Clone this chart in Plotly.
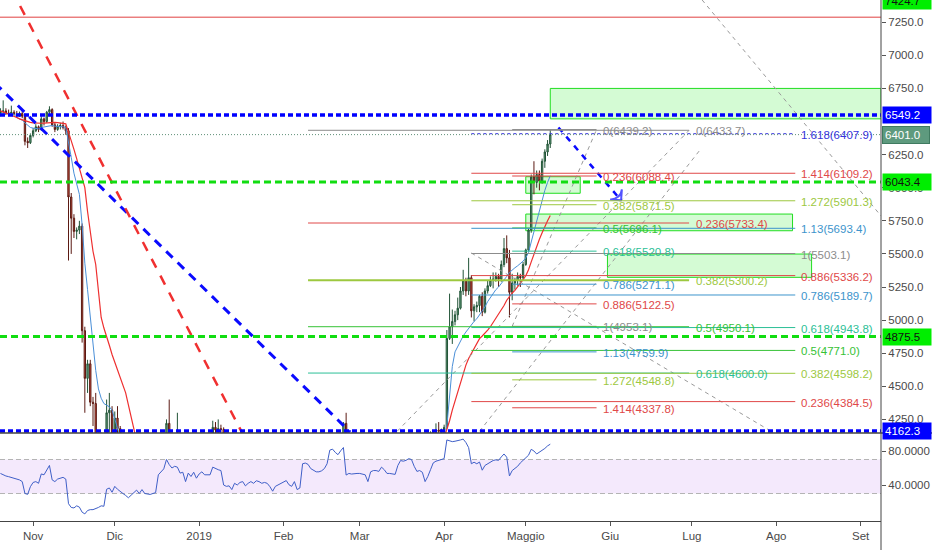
import pandas as pd
import plotly.graph_objects as go

# ---------------- daily data (2018-10-20 .. 2019-05-10) ----------------
dates = pd.date_range("2018-10-20", "2019-05-10", freq="D")

opens = [
    6560, 6575, 6580, 6565, 6560, 6570, 6555, 6550, 6560, 6540, 6350, 6340,
    6395, 6430, 6460, 6440, 6520, 6500, 6570, 6590, 6475, 6440, 6465, 6470, 6455, 6430, 5930, 5770, 5670, 5680, 5710, 4920,
    4560, 4670, 4380, 4370, 3950, 4050, 3850, 3890, 4300, 4320,
    4060, 4260, 4180, 3930, 4000, 3800, 3560, 3460, 3510, 3650, 3540, 3460, 3530, 3350, 3280, 3270, 3290, 3590, 3700, 3780,
    4220, 3960, 4060, 4040, 4120, 3860, 3900, 3700, 3960, 3870, 3910,
    3790, 3880, 3980, 3870, 3900, 3890, 4190, 4170, 4180, 4175, 3740, 3750, 3710, 3610, 3770, 3690, 3720, 3740, 3700, 3790,
    3650, 3630, 3660, 3630, 3660, 3650, 3640, 3590, 3490, 3450, 3500,
    3520, 3540, 3570, 3510, 3505, 3520, 3460, 3450, 3730, 3720, 3740, 3680, 3690, 3680, 3660, 3670, 3700, 3740, 3980, 3990,
    4040, 4010, 4050, 4220, 3840, 3890, 3880, 3890,
    3870, 3890, 3880, 3840, 3760, 3920, 3930, 3940, 3920, 4000, 3980, 3920, 3930, 3920, 3930, 3990, 4080, 4050, 4040, 4080,
    4110, 4040, 4060, 4060, 4050, 3980, 4020, 4150, 4140, 4170, 4160,
    4170, 4190, 4862, 4950, 4990, 5040, 5090, 5220, 5300, 5220, 5320, 5070, 5100, 5110, 5180, 5060, 5220, 5260, 5300, 5310,
    5330, 5310, 5420, 5540, 5470, 5210, 5280, 5300, 5330, 5320,
    5420, 5530, 5680, 6080, 6040, 6100, 6050, 6200, 6270, 6330,
]
highs = [
    6600, 6660, 6600, 6590, 6620, 6585, 6580, 6575, 6580, 6560, 6380, 6410,
    6450, 6480, 6470, 6540, 6530, 6580, 6615, 6600, 6490, 6480, 6490, 6500, 6470, 6450, 5960, 5800, 5700, 5750, 5730, 4950,
    4700, 4700, 4420, 4450, 4150, 4150, 3950, 4400, 4450, 4350,
    4310, 4350, 4200, 4100, 4010, 3850, 3600, 3560, 3700, 3680, 3550, 3560, 3540, 3370, 3300, 3330, 3620, 3720, 3950, 4250,
    4400, 4080, 4120, 4300, 4130, 3950, 3920, 3980, 4020, 3940, 3920,
    3890, 3990, 3990, 3920, 4010, 4240, 4230, 4250, 4210, 4190, 3780, 3760, 3720, 3810, 3790, 3780, 3760, 3750, 3840, 3810,
    3660, 3690, 3680, 3680, 3670, 3720, 3660, 3600, 3500, 3520, 3540,
    3560, 3580, 3580, 3530, 3540, 3530, 3490, 3770, 3740, 3760, 3750, 3720, 3720, 3690, 3700, 3720, 3760, 4010, 4090, 4060,
    4070, 4060, 4230, 4300, 3920, 3900, 3920, 3960,
    3910, 3900, 3890, 3850, 3940, 3960, 3960, 4000, 4020, 4010, 3990, 3950, 3940, 3970, 4000, 4140, 4090, 4120, 4100, 4120,
    4130, 4080, 4080, 4070, 4060, 4030, 4160, 4160, 4220, 4230, 4180,
    4210, 4925, 5200, 5080, 5070, 5170, 5250, 5380, 5320, 5470, 5340, 5120, 5140, 5190, 5210, 5240, 5300, 5330, 5360, 5360,
    5350, 5450, 5620, 5640, 5530, 5350, 5320, 5360, 5350, 5440,
    5540, 5690, 6100, 6200, 6130, 6130, 6220, 6290, 6360, 6439,
]
lows = [
    6540, 6560, 6550, 6540, 6550, 6545, 6530, 6535, 6525, 6320, 6300, 6330,
    6380, 6420, 6420, 6430, 6470, 6490, 6540, 6460, 6420, 6430, 6440, 6440, 6400, 5450, 5500, 5620, 5610, 5650, 4830, 4300,
    4450, 4350, 4200, 3900, 3700, 3650, 3600, 3870, 4150, 3980,
    4040, 4120, 3880, 3850, 3780, 3520, 3300, 3380, 3500, 3500, 3420, 3450, 3330, 3230, 3220, 3260, 3280, 3540, 3690, 3770,
    3900, 3920, 3990, 4030, 3760, 3800, 3680, 3690, 3850, 3850, 3760,
    3750, 3850, 3850, 3830, 3870, 3870, 4100, 4120, 4150, 3700, 3680, 3650, 3590, 3600, 3660, 3680, 3660, 3670, 3690, 3620,
    3600, 3560, 3610, 3620, 3600, 3630, 3560, 3460, 3430, 3440, 3480,
    3500, 3520, 3490, 3490, 3495, 3440, 3440, 3440, 3690, 3680, 3670, 3650, 3660, 3630, 3650, 3660, 3680, 3730, 3930, 3970,
    3980, 3990, 4030, 3770, 3830, 3850, 3740, 3850,
    3860, 3840, 3820, 3740, 3750, 3880, 3910, 3880, 3910, 3950, 3890, 3870, 3900, 3870, 3920, 3980, 4020, 4030, 4030, 4060,
    4000, 4030, 4040, 4030, 3950, 3970, 4010, 4120, 4130, 4140, 4150,
    4150, 4180, 4850, 4820, 4960, 5000, 5080, 5190, 5180, 5190, 5020, 4990, 5060, 5060, 5030, 5050, 5200, 5250, 5240, 5290,
    5250, 5290, 5400, 5430, 5020, 5150, 5230, 5260, 5250, 5300,
    5410, 5520, 5660, 5950, 6000, 5980, 6030, 6150, 6240, 6300,
]
closes = [
    6575, 6580, 6565, 6560, 6570, 6555, 6550, 6560, 6540, 6350, 6340, 6395,
    6430, 6460, 6440, 6520, 6500, 6570, 6590, 6475, 6440, 6465, 6470, 6455, 6430, 5930, 5770, 5670, 5680, 5710, 4920, 4560,
    4670, 4380, 4370, 3950, 4050, 3850, 3890, 4300, 4320, 4060,
    4260, 4180, 3930, 4000, 3800, 3560, 3460, 3510, 3650, 3540, 3460, 3530, 3350, 3280, 3270, 3290, 3590, 3700, 3780, 4220,
    3960, 4060, 4040, 4130, 3860, 3900, 3700, 3960, 3870, 3910, 3790,
    3880, 3980, 3870, 3900, 3890, 4190, 4170, 4180, 4175, 3740, 3750, 3710, 3610, 3770, 3690, 3720, 3740, 3700, 3790, 3650,
    3630, 3660, 3630, 3660, 3650, 3640, 3590, 3490, 3450, 3500, 3520,
    3540, 3570, 3510, 3505, 3520, 3460, 3450, 3730, 3720, 3740, 3680, 3690, 3680, 3660, 3670, 3700, 3740, 3980, 3990, 4040,
    4010, 4050, 4220, 3840, 3890, 3880, 3890, 3870,
    3890, 3880, 3840, 3760, 3920, 3930, 3940, 3920, 4000, 3980, 3920, 3930, 3920, 3930, 3990, 4080, 4050, 4040, 4080, 4110,
    4040, 4060, 4060, 4050, 3980, 4020, 4150, 4140, 4170, 4160, 4170,
    4190, 4862, 4950, 4990, 5040, 5090, 5220, 5300, 5220, 5320, 5070, 5100, 5110, 5180, 5060, 5220, 5260, 5300, 5310, 5330,
    5310, 5420, 5540, 5470, 5210, 5280, 5300, 5330, 5320, 5420,
    5530, 5680, 6080, 6040, 6100, 6050, 6200, 6270, 6330, 6401,
]
ma_fast = [
    6555, 6558, 6560, 6560, 6558, 6555, 6530, 6520, 6510, 6490, 6470, 6455,
    6450, 6445, 6445, 6455, 6460, 6465, 6470, 6470, 6465, 6465, 6465, 6460, 6455, 6350, 6230, 6110, 6020, 5950, 5720, 5430,
    5230, 5020, 4830, 4620, 4480, 4410, 4370, 4355, 4345, 4320,
    4250, 4170, 4100, 4050, 4000, 3930, 3850, 3780, 3720, 3660, 3610, 3560, 3510, 3460, 3420, 3390, 3420, 3480, 3550, 3640,
    3720, 3790, 3850, 3900, 3930, 3950, 3940, 3930, 3920, 3900, 3880,
    3870, 3880, 3890, 3890, 3890, 3930, 3970, 4010, 4040, 4010, 3980, 3940, 3900, 3860, 3820, 3780, 3740, 3720, 3720, 3720,
    3700, 3690, 3680, 3670, 3660, 3650, 3640, 3620, 3600, 3570, 3560,
    3550, 3550, 3540, 3530, 3520, 3510, 3500, 3530, 3560, 3590, 3610, 3630, 3650, 3670, 3680, 3690, 3700, 3730, 3760, 3800,
    3830, 3860, 3900, 3920, 3930, 3930, 3930, 3920,
    3910, 3900, 3890, 3880, 3880, 3890, 3890, 3890, 3900, 3910, 3920, 3930, 3930, 3940, 3950, 3970, 3990, 4000, 4010, 4030,
    4040, 4050, 4060, 4060, 4050, 4040, 4050, 4060, 4070, 4090, 4100,
    4110, 4200, 4460, 4650, 4760, 4800, 4850, 4880, 4910, 4940, 4960, 4990, 5010, 5040, 5070, 5100, 5140, 5170, 5200, 5230,
    5250, 5275, 5300, 5330, 5360, 5380, 5395, 5410, 5425, 5445,
    5470, 5510, 5590, 5670, 5760, 5840, 5920, 5980, 6040, 6090,
]
ma_slow = [
    6580, 6572, 6565, 6558, 6550, 6543, 6530, 6520, 6512, 6505, 6498, 6494,
    6490, 6488, 6487, 6487, 6488, 6490, 6493, 6494, 6493, 6492, 6490, 6487, 6482, 6420, 6360, 6290, 6220, 6150, 6080, 6000,
    5820, 5650, 5520, 5420, 5200, 5020, 4940, 4880, 4810, 4740,
    4680, 4630, 4570, 4510, 4450, 4360, 4260, 4170, 4090, 4010, 3940, 3880, 3830, 3780, 3730, 3690, 3660, 3640, 3630, 3630,
    3640, 3650, 3660, 3680, 3700, 3720, 3740, 3760, 3790, 3810, 3830,
    3850, 3870, 3880, 3890, 3900, 3910, 3920, 3930, 3940, 3930, 3920, 3910, 3900, 3890, 3870, 3850, 3830, 3810, 3790, 3770,
    3750, 3730, 3710, 3700, 3690, 3680, 3670, 3660, 3650, 3640, 3620,
    3610, 3600, 3590, 3580, 3570, 3560, 3550, 3560, 3570, 3580, 3590, 3600, 3610, 3620, 3630, 3640, 3650, 3670, 3690, 3710,
    3730, 3750, 3780, 3790, 3800, 3810, 3820, 3820,
    3830, 3840, 3850, 3850, 3860, 3870, 3880, 3880, 3890, 3890, 3890, 3890, 3900, 3900, 3910, 3930, 3940, 3950, 3960, 3980,
    3990, 4000, 4010, 4020, 4020, 4020, 4030, 4040, 4060, 4070, 4080,
    4110, 4170, 4240, 4320, 4390, 4440, 4510, 4600, 4660, 4710, 4750, 4790, 4830, 4860, 4880, 4900, 4925, 4950, 4980, 5010,
    5040, 5075, 5110, 5150, 5180, 5205, 5225, 5250, 5275, 5305,
    5335, 5380, 5440, 5500, 5560, 5610, 5660, 5710, 5750, 5790,
]
rsi = [
    53.6, 51.7, 50.6, 49.8, 49.0, 47.9, 46.8, 46.0, 44.0, 30.0, 29.0, 38.0,
    43, 44, 42, 53, 52, 58, 63, 46, 44, 47, 48, 49, 47, 18, 13.6, 13, 15.5, 14, 8, 6,
    10, 11, 11, 12, 13.6, 15.5, 15, 35, 36.5, 31.5,
    38.4, 35, 32, 30, 27.7, 25, 28, 31, 34, 30, 34.6, 30, 29, 28.9, 30, 31, 52, 56, 59, 70,
    64, 60, 62, 61, 54, 55, 44, 54, 50, 55, 48,
    53, 55.5, 52, 52, 52, 61, 59, 58, 57, 40, 38.4, 39, 34.6, 42, 40, 43, 44, 39, 42, 44,
    42, 45, 44, 42, 43, 42, 38, 32.7, 38.4, 40.3, 42.2,
    44, 45.2, 40.3, 38.4, 44, 34.6, 36.5, 65, 65.8, 64.3, 59.3, 57.4, 55.5, 55.5, 56.7, 59.3, 65, 81, 82.2, 78.4,
    75.7, 80.3, 84.1, 51.7, 53.6, 52.9, 53.6, 53.6,
    53.6, 53, 52, 44, 55.5, 57, 57, 56, 61, 58, 53.6, 53.6, 53, 52.5, 63, 68.8, 68, 69, 71, 70,
    62, 56, 57, 55, 44, 50, 58, 66, 68, 69, 70,
    71, 93, 92, 91, 91.5, 92, 93, 94, 90, 84, 65, 66.8, 65, 67, 57.4, 63, 65, 66.8, 68.8, 69.6,
    69, 73, 76.5, 72.7, 50.6, 57, 59, 62, 66, 69,
    72, 75, 82, 80, 76.5, 78.5, 80, 83, 86, 88,
]
for arr in (opens, highs, lows, closes, ma_fast, ma_slow, rsi):
    assert len(arr) == len(dates), len(arr)

# ---------------- drawings ----------------
f1_start, f1_end = "2019-04-26", "2019-05-27"
f1_levels = ["0", "0.236", "0.382", "0.5", "0.618", "0.786", "0.886", "1", "1.13", "1.272", "1.414"]
f1_prices = [6439.2, 6088.4, 5871.5, 5696.1, 5520.8, 5271.1, 5122.5, 4953.1, 4759.9, 4548.8, 4337.8]

f2_start, f2_end = "2019-02-10", "2019-06-30"
f2_levels = ["0", "0.236", "0.382", "0.5", "0.618"]
f2_prices = [6433.7, 5733.4, 5300.2, 4950.1, 4600.0]
f2_anchor_prices = [3466.3, 6433.7]

f3_start, f3_end = "2019-04-11", "2019-08-08"
f3_levels = ["1.618", "1.414", "1.272", "1.13", "1", "0.886", "0.786", "0.618", "0.5", "0.382", "0.236"]
f3_prices = [6407.9, 6109.2, 5901.3, 5693.4, 5503.1, 5336.2, 5189.7, 4943.8, 4771.0, 4598.2, 4384.5]

level_colors = {"0": "#8c8c8c", "0.236": "#e04848", "0.382": "#9dc83f", "0.5": "#36c236",
                "0.618": "#2cbf97", "0.786": "#3d94cc", "0.886": "#e04848", "1": "#8c8c8c",
                "1.13": "#3d94cc", "1.272": "#9dc83f", "1.414": "#e04848", "1.618": "#3434dc"}

hline_prices = [7288.0, 6549.2, 6043.4, 4875.5, 4162.3]
hline_colors = ["#e04040", "#0000ff", "#11dd11", "#11dd11", "#0000ff"]
hline_widths = [1, 3.5, 3, 3, 3.5]
hline_dash = ["solid", "5px,3px", "7px,4px", "7px,4px", "5px,3px"]

label_texts = ["6549.2", "6043.4", "4875.5", "4162.3"]
label_prices = [6549.2, 6043.4, 4875.5, 4162.3]
label_bg = ["#0000ff", "#00ee00", "#00ee00", "#0000ff"]
label_fg = ["#ffffff", "#111111", "#111111", "#ffffff"]
top_label_text = "7424.7"

box_x0 = ["2019-05-10", "2019-05-01", "2019-05-01", "2019-05-31"]
box_x1 = [None, "2019-05-21", "2019-08-07", "2019-08-14"]
box_y0 = [6520, 5958, 5675, 5323]
box_y1 = [6750, 6083, 5801, 5499]

blue_trend_x = ["2018-10-18", "2019-02-25 12:00"]
blue_trend_y = [6790, 4154]
red_trend_x = ["2018-10-24", "2019-01-17"]
red_trend_y = [7500, 4140]
arrow_x = ["2019-05-13", "2019-06-05"]
arrow_y = [6455, 5905]
grey_lines = [
    (["2019-04-11", "2019-08-01"], [5507, 4137]),
    (["2019-07-01", "2019-09-10"], [7512, 5750]),
    (["2019-04-14", "2019-07-04"], [4160, 6285]),
]

month_ticks = ["2018-11-01", "2018-12-01", "2019-01-01", "2019-02-01", "2019-03-01", "2019-04-01",
               "2019-05-01", "2019-06-01", "2019-07-01", "2019-08-01", "2019-09-01"]
month_labels = ["Nov", "Dic", "2019", "Feb", "Mar", "Apr", "Maggio", "Giu", "Lug", "Ago", "Set"]
price_ticks = [4250, 4500, 4750, 5000, 5250, 5500, 5750, 6000, 6250, 6750, 7000, 7250]
rsi_ticks = [40, 80]
rsi_band = [30, 70]

x_start, x_end = "2018-10-19 20:00", "2019-09-08 12:00"
FONT = "Liberation Sans, Arial, sans-serif"

fig = go.Figure()

fig.add_trace(go.Candlestick(
    x=dates, open=opens, high=highs, low=lows, close=closes,
    increasing=dict(line=dict(color="#225437", width=1), fillcolor="#6ba583"),
    decreasing=dict(line=dict(color="#5b1a13", width=1), fillcolor="#d75442"),
    whiskerwidth=0, xaxis="x", yaxis="y", showlegend=False, hoverinfo="skip"))
fig.add_trace(go.Scatter(x=dates, y=ma_fast, mode="lines", line=dict(color="#4a8fd8", width=1),
                         yaxis="y", showlegend=False, hoverinfo="skip"))
fig.add_trace(go.Scatter(x=dates, y=ma_slow, mode="lines", line=dict(color="#ee2f2f", width=1.2),
                         yaxis="y", showlegend=False, hoverinfo="skip"))

# diagonal trend lines
fig.add_trace(go.Scatter(x=blue_trend_x, y=blue_trend_y, mode="lines",
                         line=dict(color="#0a0aff", width=3, dash="9px,7px"), yaxis="y",
                         showlegend=False, hoverinfo="skip"))
fig.add_trace(go.Scatter(x=red_trend_x, y=red_trend_y, mode="lines",
                         line=dict(color="#f03030", width=2.5, dash="10px,9px"), yaxis="y",
                         showlegend=False, hoverinfo="skip"))
for gx, gy in grey_lines + [([f2_start, f2_end], f2_anchor_prices), ([f1_start, f1_end], [f1_prices[7], f1_prices[0]])]:
    fig.add_trace(go.Scatter(x=gx, y=gy, mode="lines", line=dict(color="#9a9a9a", width=1, dash="4px,4px"),
                             yaxis="y", showlegend=False, hoverinfo="skip"))
fig.add_trace(go.Scatter(x=arrow_x, y=arrow_y, mode="lines+markers",
                         line=dict(color="#0a0aff", width=2.5, dash="6px,6px"),
                         marker=dict(symbol="arrow-wide-open", size=[0, 11], angleref="previous",
                                     color="#0a0aff", line=dict(color="#0a0aff", width=2)),
                         yaxis="y", showlegend=False, hoverinfo="skip"))

# RSI
fig.add_trace(go.Scatter(x=dates, y=rsi, mode="lines", line=dict(color="#3f5fc8", width=1),
                         yaxis="y2", showlegend=False, hoverinfo="skip"))

shapes = []
annotations = []

# green boxes
for i in range(len(box_y0)):
    x1 = box_x1[i] if box_x1[i] is not None else x_end
    shapes.append(dict(type="rect", xref="x", yref="y", x0=box_x0[i], x1=x1, y0=box_y0[i], y1=box_y1[i],
                       fillcolor="rgba(60,235,60,0.22)", line=dict(color="#22dd22", width=1), layer="below"))

# fib tools
for start, end, levels, prices, shift in [(f1_start, f1_end, f1_levels, f1_prices, 4),
                                           (f2_start, f2_end, f2_levels, f2_prices, 5),
                                           (f3_start, f3_end, f3_levels, f3_prices, 4)]:
    for lv, pr in zip(levels, prices):
        col = level_colors[lv]
        dash = "dot" if lv == "1.618" else "solid"
        width = 2 if (levels is f2_levels and lv == "0.382") else 1
        shapes.append(dict(type="line", xref="x", yref="y", x0=start, x1=end, y0=pr, y1=pr,
                           line=dict(color=col, width=width, dash=dash)))
        annotations.append(dict(xref="x", yref="y", x=end, y=pr, xanchor="left", yanchor="middle",
                                xshift=shift, yshift=-1, showarrow=False, text=f"{lv}({pr:.1f})",
                                font=dict(family=FONT, size=11.5, color=col)))

# full-width horizontal lines
for pr, col, w, d in zip(hline_prices, hline_colors, hline_widths, hline_dash):
    shapes.append(dict(type="line", xref="paper", yref="y", x0=0, x1=1, y0=pr, y1=pr,
                       line=dict(color=col, width=w, dash=d)))
# current price line
shapes.append(dict(type="line", xref="paper", yref="y", x0=0, x1=1, y0=closes[-1], y1=closes[-1],
                   line=dict(color="#5f8f78", width=1, dash="1px,2px")))

# RSI band
shapes.append(dict(type="rect", xref="paper", yref="y2", x0=0, x1=1, y0=rsi_band[0], y1=rsi_band[1],
                   fillcolor="#f4e9fc", line=dict(width=0), layer="below"))
for b in rsi_band:
    shapes.append(dict(type="line", xref="paper", yref="y2", x0=0, x1=1, y0=b, y1=b,
                       line=dict(color="#b4b4b4", width=1, dash="5px,3px"), layer="below"))

# pane separators / axis borders
W, PLOT_W, PLOT_H = 932, 881, 521
shapes.append(dict(type="line", xref="paper", yref="paper", x0=0, x1=W / PLOT_W, y0=88 / PLOT_H, y1=88 / PLOT_H,
                   line=dict(color="#444444", width=1.5)))
shapes.append(dict(type="line", xref="paper", yref="paper", x0=1, x1=1, y0=-29 / PLOT_H, y1=1,
                   line=dict(color="#444444", width=1)))

# axis price labels
for t, pr, bg, fg in zip(label_texts, label_prices, label_bg, label_fg):
    annotations.append(dict(xref="paper", yref="y", x=1, y=pr, xanchor="left", yanchor="middle", xshift=1,
                            showarrow=False, text=t, bgcolor=bg, width=44, align="left", borderpad=2,
                            font=dict(family=FONT, size=11.5, color=fg)))
annotations.append(dict(xref="paper", yref="y", x=1, y=closes[-1], xanchor="left", yanchor="middle", xshift=1,
                        showarrow=False, text=f"{closes[-1]:.1f}", bgcolor="#5e9a7e", bordercolor="#3f7a60",
                        width=42, align="left", borderpad=2, font=dict(family=FONT, size=11.5, color="#ffffff")))
# top label, mostly outside the window like in the reference
annotations.append(dict(xref="paper", yref="paper", x=1, y=1, xanchor="left", yanchor="middle", xshift=1,
                        yshift=-1, showarrow=False, text=top_label_text, bgcolor="#00ee00", width=44,
                        align="left", borderpad=2, font=dict(family=FONT, size=11.5, color="#111111")))

fig.update_layout(
    width=932, height=550, margin=dict(l=0, r=51, t=0, b=29, autoexpand=False),
    paper_bgcolor="white", plot_bgcolor="white", hovermode=False, showlegend=False,
    shapes=shapes, annotations=annotations,
    xaxis=dict(type="date", range=[x_start, x_end], anchor="y2", tickvals=month_ticks, ticktext=month_labels,
               ticks="outside", ticklen=4, tickcolor="#555555", showline=True, linecolor="#444444",
               showgrid=False, zeroline=False, rangeslider=dict(visible=False),
               tickfont=dict(family=FONT, size=11.5, color="#4a4a4a")),
    yaxis=dict(domain=[88 / PLOT_H, 1], range=[4147.3, 7417.8], side="right", anchor="x",
               tickvals=price_ticks, tickformat=".1f", ticks="outside", ticklen=4, tickcolor="#555555",
               showgrid=False, zeroline=False, showline=False,
               tickfont=dict(family=FONT, size=11.5, color="#4a4a4a")),
    yaxis2=dict(domain=[0, 87 / PLOT_H], range=[-2.35, 100], side="right", anchor="x",
                tickvals=rsi_ticks, ticktext=[f"{v:.4f}" for v in rsi_ticks], ticks="outside", ticklen=4,
                tickcolor="#555555", showgrid=False, zeroline=False, showline=False,
                tickfont=dict(family=FONT, size=11.5, color="#4a4a4a")),
)

fig.write_html("out.html", config={"displayModeBar": False, "staticPlot": True})

# remove the default page margin so the 932x550 figure fills the window exactly
with open("out.html", "r", encoding="utf-8") as fh:
    page = fh.read()
page = page.replace("<head>", "<head><style>html,body{margin:0;padding:0;overflow:hidden;}</style>", 1)
with open("out.html", "w", encoding="utf-8") as fh:
    fh.write(page)
